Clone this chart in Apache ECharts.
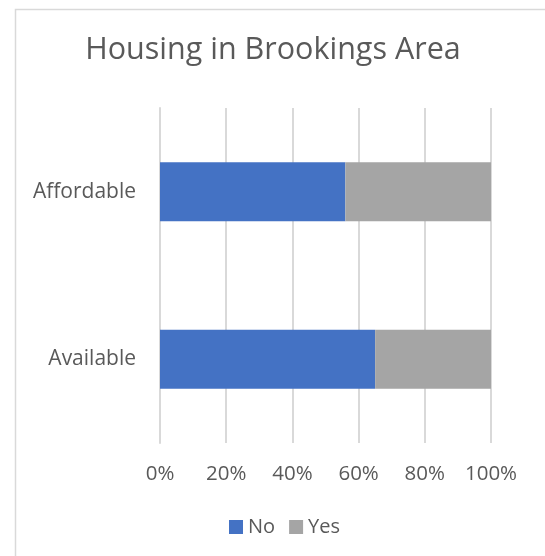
<!DOCTYPE html>
<html>
<head>
<meta charset="utf-8">
<script src="https://cdn.jsdelivr.net/npm/echarts@6/dist/echarts.min.js"></script>
<style>html,body{margin:0;padding:0;background:#fff;}#c{width:545px;height:556px;}</style>
</head>
<body>
<div id="c"></div>
<script>
const categories = ['Available', 'Affordable'];
const noValues = [65, 56];
const yesValues = [35, 44];
const tickLabels = ['0%', '20%', '40%', '60%', '80%', '100%'];

const chart = echarts.init(document.getElementById('c'), null, {renderer: 'canvas'});
const font = '"Open Sans", "Noto Sans", sans-serif';
chart.setOption({
  animation: false,
  backgroundColor: '#ffffff',
  graphic: [{
    type: 'rect',
    shape: {x: 15.5, y: 9.5, width: 600, height: 600},
    style: {fill: 'none', stroke: '#d9d9d9', lineWidth: 1.5},
    silent: true
  }],
  title: {
    text: 'Housing in Brookings Area',
    left: 268, top: 30, textAlign: 'center',
    textStyle: {fontFamily: font, fontSize: 30.5, fontWeight: 'normal', color: '#595959'}
  },
  legend: {
    data: ['No', 'Yes'],
    top: 517, left: 229, padding: 0,
    itemWidth: 14, itemHeight: 14, itemGap: 14,
    icon: 'rect',
    textStyle: {fontFamily: font, fontSize: 20, color: '#595959'}
  },
  grid: {left: 160, right: 54, top: 108, bottom: 113, containLabel: false},
  xAxis: {
    type: 'value', min: 0, max: 100, interval: 20,
    axisLine: {show: false}, axisTick: {show: false},
    splitLine: {show: true, lineStyle: {color: '#d9d9d9', width: 2}},
    axisLabel: {
      margin: 21, fontFamily: font, fontSize: 20.5, color: '#595959',
      formatter: function (v) { return tickLabels[Math.round(v / 20)]; }
    }
  },
  yAxis: {
    type: 'category', data: categories,
    axisLine: {show: true, lineStyle: {color: '#d9d9d9', width: 2}},
    axisTick: {show: false},
    axisLabel: {margin: 24, fontFamily: font, fontSize: 21, color: '#595959'}
  },
  series: [
    {name: 'No', type: 'bar', stack: 's', data: noValues, barWidth: 59,
     itemStyle: {color: '#4472c4'}},
    {name: 'Yes', type: 'bar', stack: 's', data: yesValues, barWidth: 59,
     itemStyle: {color: '#a5a5a5'}}
  ]
});
</script>
</body>
</html>
